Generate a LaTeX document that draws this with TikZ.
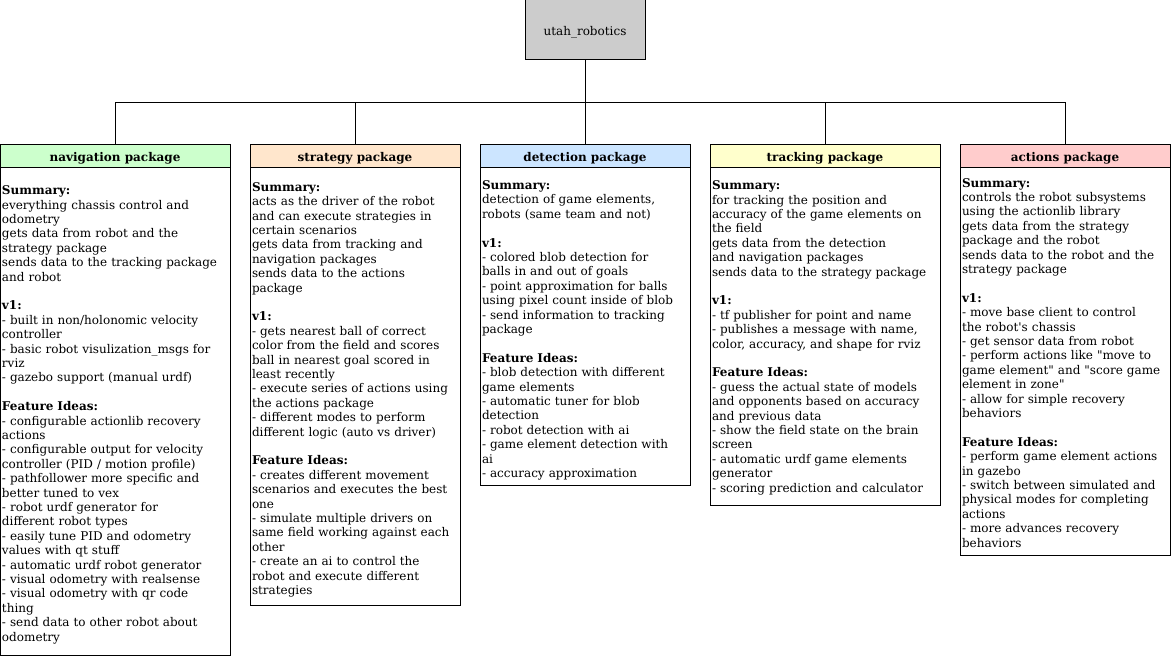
\documentclass[tikz,border=0pt]{standalone}
\usepackage{fontspec}
\setmainfont{DejaVu Serif}[BoldFont={DejaVu Serif Bold}]
\usetikzlibrary{positioning}

\begin{document}
\begin{tikzpicture}[x=0.75pt, y=-0.75pt, line width=0.75pt,
		every node/.style={outer sep=0pt, font=\fontsize{9}{10.8}\selectfont},
		root/.style={draw, fill=black!20, minimum width=90pt, minimum height=45pt, text height=9.9pt, text depth=2.2pt},
		head/.style={draw, inner ysep=0pt, minimum height=17.25pt, text height=9.9pt, text depth=2.2pt, font=\fontsize{9}{10.8}\selectfont\bfseries},
		body/.style={draw, anchor=north, align=left, inner xsep=1.5pt, inner ysep=1pt}]
	\useasboundingbox (0,0) rectangle (1171,656);
	\definecolor{navgreen}{HTML}{CCFFCC}
	\definecolor{stratorange}{HTML}{FFE6CC}
	\definecolor{detblue}{HTML}{CCE5FF}
	\definecolor{trackyellow}{HTML}{FFFFCC}
	\definecolor{actred}{HTML}{FFCCCC}
	
	% root
	\node[root] (root) at (585,30) {utah\_robotics};
	
	% package headers
	\node[head, fill=navgreen, minimum width=172.5pt] (navhead) at (115,156.5) {navigation package};
	\node[head, fill=stratorange, minimum width=157.5pt] (strathead) at (355,156.5) {strategy package};
	\node[head, fill=detblue, minimum width=157.5pt] (dethead) at (585,156.5) {detection package};
	\node[head, fill=trackyellow, minimum width=172.5pt] (trackhead) at (825,156.5) {tracking package};
	\node[head, fill=actred, minimum width=157.5pt] (acthead) at (1065,156.5) {actions package};
	
	% package bodies
	\node[body, below=0pt of navhead, text width=169.5pt, minimum height=365.25pt] (navbody) {%
		\rule{0pt}{11.5pt}\textbf{Summary:}\\
		everything chassis control and\\
		odometry\\
		gets data from robot and the\\
		strategy package\\
		sends data to the tracking package\\
		and robot\\[10.8pt]
		\textbf{v1:}\\
		- built in non/holonomic velocity\\
		controller\\
		- basic robot visulization\_msgs for\\
		rviz\\
		- gazebo support (manual urdf)\\[10.8pt]
		\textbf{Feature Ideas:}\\
		- configurable actionlib recovery\\
		actions\\
		- configurable output for velocity\\
		controller (PID / motion profile)\\
		- pathfollower more specific and\\
		better tuned to vex\\
		- robot urdf generator for\\
		different robot types\\
		- easily tune PID and odometry\\
		values with qt stuff\\
		- automatic urdf robot generator\\
		- visual odometry with realsense\\
		- visual odometry with qr code\\
		thing\\
		- send data to other robot about\\
		odometry};
	\node[body, below=0pt of strathead, text width=154.5pt, minimum height=327.75pt] (stratbody) {%
		\rule{0pt}{11.5pt}\textbf{Summary:}\\
		acts as the driver of the robot\\
		and can execute strategies in\\
		certain scenarios\\
		gets data from tracking and\\
		navigation packages\\
		sends data to the actions\\
		package\\[10.8pt]
		\textbf{v1:}\\
		- gets nearest ball of correct\\
		color from the field and scores\\
		ball in nearest goal scored in\\
		least recently\\
		- execute series of actions using\\
		the actions package\\
		- different modes to perform\\
		different logic (auto vs driver)\\[10.8pt]
		\textbf{Feature Ideas:}\\
		- creates different movement\\
		scenarios and executes the best\\
		one\\
		- simulate multiple drivers on\\
		same field working against each\\
		other\\
		- create an ai to control the\\
		robot and execute different\\
		strategies};
	\node[body, below=0pt of dethead, text width=154.5pt, minimum height=237.75pt] (detbody) {%
		\rule{0pt}{12.5pt}\textbf{Summary:}\\
		detection of game elements,\\
		robots (same team and not)\\[10.8pt]
		\textbf{v1:}\\
		- colored blob detection for\\
		balls in and out of goals\\
		- point approximation for balls\\
		using pixel count inside of blob\\
		- send information to tracking\\
		package\\[10.8pt]
		\textbf{Feature Ideas:}\\
		- blob detection with different\\
		game elements\\
		- automatic tuner for blob\\
		detection\\
		- robot detection with ai\\
		- game element detection with\\
		ai\\
		- accuracy approximation};
	\node[body, below=0pt of trackhead, text width=169.5pt, minimum height=252.75pt] (trackbody) {%
		\rule{0pt}{8.5pt}\textbf{Summary:}\\
		for tracking the position and\\
		accuracy of the game elements on\\
		the field\\
		gets data from the detection\\
		and navigation packages\\
		sends data to the strategy package\\[10.8pt]
		\textbf{v1:}\\
		- tf publisher for point and name\\
		- publishes a message with name,\\
		color, accuracy, and shape for rviz\\[10.8pt]
		\textbf{Feature Ideas:}\\
		- guess the actual state of models\\
		and opponents based on accuracy\\
		and previous data\\
		- show the field state on the brain\\
		screen\\
		- automatic urdf game elements\\
		generator\\
		- scoring prediction and calculator};
	\node[body, below=0pt of acthead, text width=154.5pt, minimum height=290.25pt] (actbody) {%
		\rule{0pt}{8.5pt}\textbf{Summary:}\\
		controls the robot subsystems\\
		using the actionlib library\\
		gets data from the strategy\\
		package and the robot\\
		sends data to the robot and the\\
		strategy package\\[10.8pt]
		\textbf{v1:}\\
		- move base client to control\\
		the robot\textquotesingle s chassis\\
		- get sensor data from robot\\
		- perform actions like \textquotedbl move to\\
		game element\textquotedbl{} and \textquotedbl score game\\
		element in zone\textquotedbl\\
		- allow for simple recovery\\
		behaviors\\[10.8pt]
		\textbf{Feature Ideas:}\\
		- perform game element actions\\
		in gazebo\\
		- switch between simulated and\\
		physical modes for completing\\
		actions\\
		- more advances recovery\\
		behaviors};
	
	% connectors
	\coordinate (bus) at (585,103);
	\draw (root.south) -- (bus);
	\foreach \pkg in {navhead,strathead,dethead,trackhead,acthead}
		\draw (bus) -| (\pkg.north);
\end{tikzpicture}
\end{document}
